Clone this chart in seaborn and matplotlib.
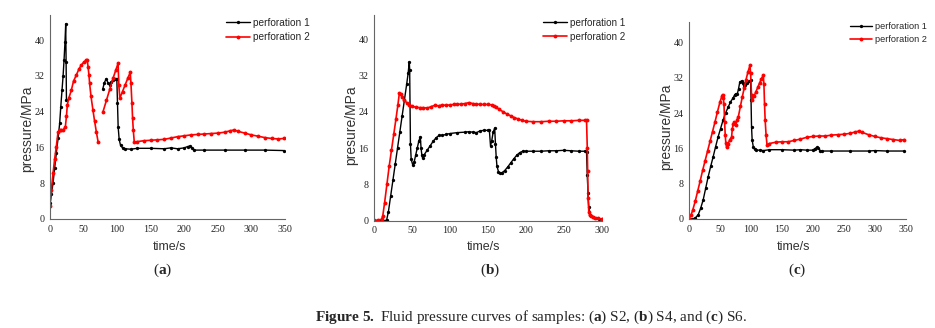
import numpy as np
import pandas as pd
import matplotlib
matplotlib.use("Agg")
import matplotlib.pyplot as plt
import seaborn as sns

# ---------------- data ----------------
# Panel (a) S2
a1_t1 = [0, 2, 4.5, 7, 9.4, 12, 14.4, 16, 17.9, 19.5, 20.9, 22.3, 23.4, 24.0, 24.5]
a1_p1 = [3.5, 5.5, 8, 11.5, 14.7, 18, 21.4, 25, 28.8, 32, 35.5, 39.5, 43.6, 35, 26.5]
a1_t2 = [78.5, 81, 84, 86.5, 89, 91.5, 94, 96.5, 99.5, 100.5, 101.5, 103, 105, 108, 112,
         120, 130, 150, 170, 180, 190, 200, 205, 208.5, 211, 215, 230, 260, 290, 320, 348]
a1_p2 = [29, 30.5, 31.4, 30.3, 30, 30.7, 31, 31.4, 31.4, 26, 20.6, 17.8, 16.5, 15.9, 15.7,
         15.6, 15.8, 15.8, 15.7, 15.9, 15.7, 15.9, 16.2, 16.3, 15.9, 15.4, 15.4, 15.4, 15.4, 15.4, 15.3]
a2_t1 = [0, 2, 4.5, 7, 9.4, 12, 14.4, 17, 19.4, 22.9, 24.5, 25.8, 28, 31.8, 35, 39.3, 43, 46.7,
         50, 54, 55.5, 56.7, 58, 59, 61, 64, 66.5, 69, 71.6]
a2_p1 = [2.8, 6.5, 10.2, 13.5, 16.2, 19.5, 19.9, 19.9, 19.9, 20.6, 23, 25.5, 27, 28.8, 30.8, 32.2,
         33.5, 34.4, 35, 35.5, 35.5, 34, 32.2, 30.3, 27.5, 24.3, 21.8, 19.5, 17.3]
a2_t2 = [79, 84, 89, 94, 98, 101.4, 102.5, 104, 108, 112, 116, 119.5, 120.5, 122, 123, 124,
         125.5, 130, 140, 150, 160, 170, 180, 190, 200, 210, 220, 230, 240, 250, 260, 268,
         274, 280, 290, 300, 310, 320, 330, 340, 348]
a2_p2 = [24, 26.5, 29, 31.5, 33.3, 34.8, 30, 27, 28.5, 30, 31.5, 32.8, 30.5, 26, 22.5, 20,
         17.2, 17.3, 17.5, 17.6, 17.7, 17.8, 18.1, 18.4, 18.6, 18.8, 18.9, 19.0, 19.1, 19.2, 19.4, 19.7,
         19.9, 19.6, 19.2, 18.8, 18.5, 18.2, 18.0, 17.9, 18.0]

# Panel (b) S4
b1_t = [0, 5, 10, 15, 16.7, 19, 22, 25, 28, 31, 34, 37, 40, 43, 45, 46.5, 47, 48, 49, 51, 53,
        55, 57, 59, 61, 62, 63, 64, 66, 70, 74, 78, 82, 86, 90, 95, 100, 110, 120, 125, 130,
        135, 140, 145, 150, 152, 153.5, 155, 157, 159, 160, 161, 162, 164, 166, 168, 172, 176,
        180, 184, 188, 192, 196, 200, 210, 220, 230, 240, 250, 260, 270, 278, 280, 281, 282,
        283, 285, 288, 292, 296, 300]
b1_p = [0, 0, 0, 0, 0.2, 2, 5.5, 9, 12.5, 16, 19.5, 23, 26.5, 30, 32.5, 35, 33.2, 17, 13.5, 12.3,
        13, 14.5, 16, 17.5, 18.5, 16, 14.5, 13.8, 14.5, 15.5, 16.5, 17.5, 18.3, 18.8, 18.8, 19,
        19.2, 19.4, 19.5, 19.6, 19.5, 19.4, 19.8, 19.9, 19.9, 19.9, 16.5, 17.5, 19.5, 20.4, 17,
        14, 12, 10.8, 10.4, 10.5, 11, 11.8, 12.7, 13.6, 14.4, 15.0, 15.3, 15.3, 15.3, 15.3, 15.4,
        15.4, 15.5, 15.4, 15.3, 15.3, 15.2, 10, 6, 3, 1.2, 0.8, 0.6, 0.4, 0.3]
b2_t = [0, 5, 10, 11.5, 14, 17, 20, 23, 26, 29, 31.5, 33.4, 35, 37, 40, 43, 46, 50, 55, 60, 65,
        70, 75, 80, 85, 90, 95, 100, 105, 110, 115, 120, 125, 130, 135, 140, 145, 150, 155, 158,
        161, 165, 170, 175, 180, 185, 190, 195, 200, 210, 220, 230, 240, 250, 260, 270, 278, 280,
        281, 281.5, 282, 283, 284, 286, 288, 291, 295, 300]
b2_p = [0.1, 0.1, 0.3, 1, 4, 8, 12, 15.5, 19, 22.5, 25.5, 28.1, 27.8, 27.2, 26.5, 26, 25.5, 25.2,
        25.0, 24.9, 24.9, 24.8, 25.1, 25.4, 25.3, 25.5, 25.4, 25.5, 25.6, 25.6, 25.7, 25.8, 26.0,
        25.8, 25.7, 25.6, 25.6, 25.6, 25.5, 25.3, 25.0, 24.5, 24.0, 23.5, 23.1, 22.7, 22.4, 22.1,
        21.9, 21.8, 21.8, 21.9, 21.9, 22.0, 22.0, 22.1, 22.1, 22.2, 16, 11, 5, 2, 1.3, 1, 0.8,
        0.6, 0.5, 0.4]

# Panel (c) S6
c1_t = [0, 5, 7, 10, 15, 19, 23, 27, 31, 35, 39, 43, 47, 51, 55, 59, 63.4, 67, 71.5, 74, 75.8,
        78, 80, 82, 85, 87, 88.7, 91, 94, 97, 99.5, 100.2, 101, 102, 104, 106, 109, 115, 120,
        130, 150, 170, 180, 190, 200, 203, 206, 209, 212, 215, 230, 260, 290, 300, 320, 348]
c1_p = [0, 0, 0, 0.2, 1, 2.5, 4.4, 7, 9.6, 11.9, 14.1, 16.4, 18.6, 20.5, 22.4, 24, 25.4, 26.5,
        27.5, 28.2, 28.4, 28.3, 29.5, 31, 31.3, 30.8, 29.9, 30.3, 30.8, 31.2, 31.4, 27, 20.9,
        17.9, 16.2, 15.8, 15.6, 15.6, 15.5, 15.7, 15.7, 15.6, 15.7, 15.6, 15.6, 15.9, 16.2, 16.0,
        15.5, 15.4, 15.4, 15.4, 15.4, 15.5, 15.4, 15.4]
c2_t = [0, 3, 6, 10, 14, 18, 22, 26, 30, 34, 38, 42, 46, 50, 53, 54.3, 55.5, 56.5, 57.5, 58.5,
        59.5, 60.7, 63, 66, 68.8, 70, 71.5, 73, 75.8, 77.5, 79.6, 83, 86, 89, 92, 95, 98.4, 99.5,
        101, 102, 105, 108, 111, 114, 117, 120, 121, 122, 123, 124.5, 126, 130, 140, 150, 160,
        170, 180, 190, 200, 210, 220, 230, 240, 250, 260, 268, 274, 280, 290, 300, 310, 320, 330,
        340, 348]
c2_p = [0, 0.8, 2, 4, 6.3, 8.6, 11, 13.2, 15.4, 17.6, 19.8, 22, 24.3, 26.5, 27.8, 28.2, 27.5, 26,
        22, 19, 17.2, 16.2, 17, 18, 18.6, 20.5, 21.5, 22, 21.3, 22.5, 23.1, 25.5, 27.6, 29.6, 31.5,
        33.2, 34.8, 33, 28, 26.9, 27.8, 28.8, 29.8, 30.8, 31.8, 32.6, 30.5, 26, 22.4, 19, 16.8,
        17.1, 17.4, 17.5, 17.5, 17.8, 18.1, 18.5, 18.7, 18.8, 18.8, 19.0, 19.1, 19.2, 19.4, 19.7,
        19.9, 19.6, 19.1, 18.7, 18.4, 18.2, 18.0, 17.8, 18.0]

series_names = ["perforation 1", "perforation 2"]
panel_letters = ["a", "b", "c"]
ylabels = ["pressure/MPa", "presure/MPa", "pressure/MPa"]
xmax = [350, 300, 350]
yticks = [0, 8, 16, 24, 32, 40]

# ---------------- build tables ----------------
def frame(segments):
    rows = []
    for seg_id, (t, p) in enumerate(segments):
        assert len(t) == len(p), (len(t), len(p))
        for ti, pi in zip(t, p):
            rows.append((ti, pi, seg_id))
    return pd.DataFrame(rows, columns=["time", "pressure", "seg"])

panels = [
    (frame([(a1_t1, a1_p1), (a1_t2, a1_p2)]), frame([(a2_t1, a2_p1), (a2_t2, a2_p2)])),
    (frame([(b1_t, b1_p)]), frame([(b2_t, b2_p)])),
    (frame([(c1_t, c1_p)]), frame([(c2_t, c2_p)])),
]

# ---------------- style ----------------
sns.set_style("white")
plt.rcParams["font.family"] = ["Liberation Sans", "DejaVu Sans"]
plt.rcParams["mathtext.fontset"] = "custom"
plt.rcParams["mathtext.rm"] = "Liberation Serif"
plt.rcParams["mathtext.bf"] = "Liberation Serif:bold"

fig = plt.figure(figsize=(9.35, 3.28), dpi=100)
W, H = 935.0, 328.0

# axes pixel boxes: (left, right, bottom, top) ; ylim top
boxes = [(50, 285, 219, 15, 45.6), (374, 601.7, 220.7, 15, 45.3), (689, 905.7, 219, 21.7, 44.7)]
ylab_pos = [(-0.096, 0.44), (-0.1, 0.465), (-0.104, 0.47)]
xlab_pos = [(0.51, -0.137), (0.48, -0.129), (0.48, -0.14)]
leg_pos = [(226, 17.5), (543, 17.5), (850, 22)]
leg_size = [7.3, 7.1, 6.6]
letter_x = [163, 490, 797]

colors = ["#000000", "#ff0000"]
lws = [1.0, 1.2]
msz = [2.4, 2.8]

for i, (box, (d1, d2)) in enumerate(zip(boxes, panels)):
    l, r, b, t, ytop = box
    ax = fig.add_axes([l / W, 1 - b / H, (r - l) / W, (b - t) / H])
    for df, col, name, lw, ms in zip((d1, d2), colors, series_names, lws, msz):
        sns.lineplot(data=df, x="time", y="pressure", units="seg", estimator=None,
                     sort=False, color=col, lw=lw, marker="o", markersize=ms,
                     markeredgewidth=0, label=name, ax=ax)
    ax.set_xlim(0, xmax[i])
    ax.set_ylim(0, ytop)
    ax.set_yticks(yticks)
    ax.set_xticks(np.arange(0, xmax[i] + 1, 50))
    for sp in ("top", "right"):
        ax.spines[sp].set_visible(False)
    for sp in ("left", "bottom"):
        ax.spines[sp].set_color("#666666")
        ax.spines[sp].set_linewidth(0.8)
    ax.tick_params(direction="in", length=3, width=0.7, color="#666666", pad=4,
                   labelsize=7.2, labelcolor="#222222")
    for lab in ax.get_xticklabels() + ax.get_yticklabels():
        lab.set_fontfamily("Liberation Serif")
    ax.set_xlabel("time/s", fontsize=9, color="#333333")
    ax.set_ylabel(ylabels[i], fontsize=10, color="#333333")
    ax.xaxis.set_label_coords(*xlab_pos[i])
    ax.yaxis.set_label_coords(*ylab_pos[i])
    ax.xaxis.label.set_va("center")
    ax.yaxis.label.set_va("center")

    handles, labels = ax.get_legend_handles_labels()
    uniq = {}
    for h, lb in zip(handles, labels):
        uniq.setdefault(lb, h)
    lx, ly = leg_pos[i]
    ax.legend(list(uniq.values()), list(uniq.keys()), loc="upper left",
              bbox_to_anchor=(lx / W, 1 - ly / H), bbox_transform=fig.transFigure,
              frameon=False, borderpad=0, borderaxespad=0,
              handlelength=2.4, handletextpad=0.3, labelspacing=0.45,
              prop={"family": "Liberation Sans", "size": leg_size[i]})

    fig.text(letter_x[i] / W, 1 - 270 / H,
             r"($\mathbf{" + panel_letters[i] + r"}$)",
             ha="center", va="center", fontsize=11, family="Liberation Serif")

fig.text(531 / W, 1 - 317 / H,
         r"$\mathbf{Figure}$ $\mathbf{5.}$ Fluid pressure curves of samples: ($\mathbf{a}$) S2, "
         r"($\mathbf{b}$) S4, and ($\mathbf{c}$) S6.",
         ha="center", va="center", fontsize=11, family="Liberation Serif")

fig.savefig("out.png", dpi=100)
